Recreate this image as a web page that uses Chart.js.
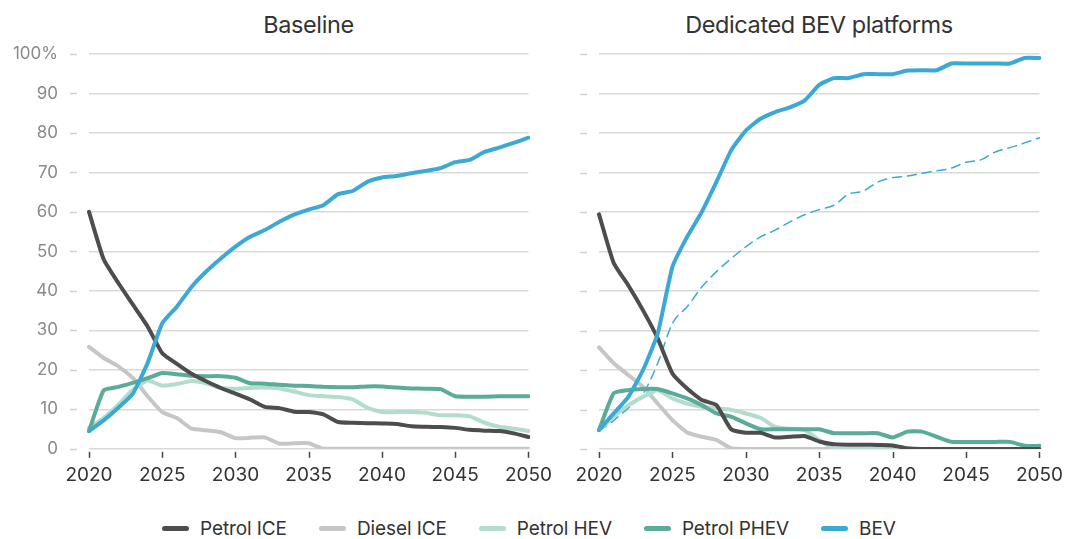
<!DOCTYPE html>
<html>
<head>
<meta charset="utf-8">
<script src="https://cdn.jsdelivr.net/npm/chart.js@4.4.1/dist/chart.umd.min.js"></script>
<style>
    body { margin: 0; background: #fff; font-family: Inter, sans-serif; }
    #wrap { position: relative; width: 1076px; height: 539px; overflow: hidden; }
    .box { position: absolute; top: 0; height: 490px; }
    .title { position: absolute; top: 10px; font-size: 23.5px; color: #333; text-align: center; letter-spacing: -0.4px; }
    #legend { position: absolute; left: 162px; top: 517px; display: flex; align-items: center; font-size: 19px; color: #333; letter-spacing: -0.1px; }
    .item { display: flex; align-items: center; margin-right: 32px; }
    .sw { width: 27px; height: 5px; border-radius: 3px; margin-right: 11px; }
</style>
</head>
<body>
<div id="wrap">
    <div class="title" style="left:89px;width:439px;">Baseline</div>
    <div class="title" style="left:599px;width:440px;">Dedicated BEV platforms</div>
    <div class="box" style="left:0;width:559px;"><canvas id="baseChart"></canvas></div>
    <div class="box" style="left:540px;width:530px;"><canvas id="bevChart"></canvas></div>
    <div id="legend"></div>
</div>
<script>
    "use strict";

    let years = [];
    for (let y = 2020; y <= 2050; y++) years.push(y);

    let seriesNames = ["Petrol ICE", "Diesel ICE", "Petrol HEV", "Petrol PHEV", "BEV"];
    let seriesColors = ["#4d4d4d", "#c6c6c6", "#b4dccb", "#5aab97", "#3ba9d3"];

    // Baseline scenario (% share)
    let basePetrolIce = [60, 48, 42, 36.5, 31, 24.2, 21.5, 19, 17.1, 15.4, 14, 12.5, 10.6, 10.3, 9.4, 9.3, 8.7, 6.8, 6.6, 6.5, 6.4, 6.3, 5.7, 5.6, 5.5, 5.3, 4.8, 4.6, 4.5, 3.9, 3.0];
    let baseDieselIce = [25.8, 23, 20.9, 17.9, 13.3, 9.3, 7.8, 5.1, 4.7, 4.2, 2.7, 2.8, 2.9, 1.3, 1.4, 1.4, 0, 0, 0, 0, 0, 0, 0, 0, 0, 0, 0, 0, 0, 0, 0];
    let basePetrolHev = [5.3, 7.8, 11.2, 15, 17.3, 16, 16.4, 17.2, 16.6, 15.4, 15.2, 15.4, 15.5, 15.3, 14.5, 13.6, 13.3, 13.1, 12.5, 10.4, 9.3, 9.3, 9.3, 9.1, 8.5, 8.5, 8.2, 6.6, 5.6, 5.1, 4.5];
    let basePetrolPhev = [4.5, 14.8, 15.7, 16.7, 17.9, 19.2, 18.9, 18.5, 18.4, 18.4, 18, 16.6, 16.5, 16.2, 16, 15.9, 15.7, 15.6, 15.6, 15.8, 15.8, 15.5, 15.3, 15.2, 15.1, 13.3, 13.2, 13.2, 13.3, 13.3, 13.3];
    let baseBev = [4.5, 7.2, 10.4, 14, 21.7, 31.8, 36, 41, 44.9, 48.2, 51.2, 53.7, 55.4, 57.5, 59.3, 60.6, 61.7, 64.5, 65.3, 67.6, 68.7, 69.1, 69.8, 70.4, 71.1, 72.6, 73.2, 75.2, 76.3, 77.5, 78.8];

    // Dedicated BEV platforms scenario (% share)
    let dedPetrolIce = [59.4, 47.1, 41.4, 35.1, 28, 19.1, 15.3, 12.4, 11.1, 5, 4.1, 4.1, 2.9, 3.1, 3.3, 1.9, 1.2, 1.1, 1.1, 1, 0.9, 0.2, 0, 0, 0, 0, 0, 0, 0, 0, 0];
    let dedDieselIce = [25.7, 21.7, 18.7, 15.8, 11.5, 7.3, 4.2, 3.1, 2.3, 0.2, 0, 0, 0, 0, 0, 0, 0, 0, 0, 0, 0, 0, 0, 0, 0, 0, 0, 0, 0, 0, 0];
    let dedPetrolHev = [4.8, 8.2, 11.1, 13.2, 14.9, 12.8, 11.5, 10.7, 10.3, 9.9, 9, 7.9, 5.6, 5.1, 4.8, 2.3, 0.1, 0, 0, 0, 0, 0, 0, 0, 0, 0, 0, 0, 0, 0, 0];
    let dedPetrolPhev = [4.8, 14.1, 14.9, 15.2, 15.2, 14.1, 12.8, 11.1, 9, 8.2, 6.5, 5, 5, 5, 5, 5, 4, 4, 4, 4, 2.9, 4.4, 4.4, 3.1, 1.8, 1.8, 1.8, 1.8, 1.8, 0.8, 0.8];
    let dedBev = [4.8, 9, 13.2, 20, 29.2, 46.1, 53.7, 60, 67.6, 75.6, 80.6, 83.6, 85.3, 86.5, 88.2, 92.2, 93.9, 93.9, 94.9, 94.9, 94.9, 95.8, 95.9, 95.9, 97.6, 97.6, 97.6, 97.6, 97.6, 99, 99];

    let yTicks = [0, 10, 20, 30, 40, 50, 60, 70, 80, 90, 100];

    // short tick dashes left of the grid and below the x axis
    let tickMarks = {
        id: "tickMarks",
        afterDraw(chart) {
            let ctx = chart.ctx;
            let area = chart.chartArea;
            let x = chart.scales.x;
            let y = chart.scales.y;
            ctx.save();
            ctx.lineWidth = 1.5;
            ctx.strokeStyle = "#d0d0d0";
            yTicks.forEach(v => {
                let py = Math.round(y.getPixelForValue(v)) + 0.5;
                ctx.beginPath();
                ctx.moveTo(area.left - 19, py);
                ctx.lineTo(area.left - 12, py);
                ctx.stroke();
            });
            ctx.strokeStyle = "#444";
            years.forEach((yr, i) => {
                if (yr % 5 !== 0) return;
                let px = Math.round(x.getPixelForValue(i)) + 0.5;
                ctx.beginPath();
                ctx.moveTo(px, area.bottom + 3);
                ctx.lineTo(px, area.bottom + 9);
                ctx.stroke();
            });
            ctx.restore();
        }
    };

    function MakeDatasets(values, dashed) {
        let order = [1, 4, 3, 2, 0];
        let sets = values.map((v, i) => ({
            label: seriesNames[i],
            data: v,
            borderColor: seriesColors[i],
            borderWidth: 4,
            order: order[i]
        }));
        if (dashed) {
            sets.push({
                label: "BEV (baseline)",
                data: dashed,
                borderColor: seriesColors[4],
                borderWidth: 1.5,
                borderDash: [9, 6],
                cubicInterpolationMode: "monotone",
                order: 5
            });
        }
        return sets;
    }

    function DrawChart(id, datasets, showLabels, padRight) {
        let ctx = document.getElementById(id).getContext("2d");
        return new Chart(ctx, {
            type: "line",
            data: { labels: years, datasets: datasets },
            plugins: [tickMarks],
            options: {
                responsive: true,
                maintainAspectRatio: false,
                animation: false,
                layout: { padding: { top: 54, right: padRight, left: 0, bottom: 0 } },
                elements: {
                    point: { radius: 0 },
                    line: { tension: 0.15, borderJoinStyle: "round", borderCapStyle: "round" }
                },
                plugins: { legend: { display: false }, tooltip: { enabled: false } },
                scales: {
                    x: {
                        afterFit: s => { s.height = 41; },
                        grid: { display: false },
                        border: { display: false },
                        ticks: {
                            autoSkip: false,
                            maxRotation: 0,
                            padding: 7,
                            color: "#333",
                            font: { family: "Inter", size: 19 },
                            callback: function (v, i) { return years[i] % 5 === 0 ? String(years[i]) : ""; }
                        }
                    },
                    y: {
                        min: 0,
                        max: 100,
                        afterFit: s => { s.width = showLabels ? 89 : 59; },
                        afterBuildTicks: s => { s.ticks = yTicks.map(v => ({ value: v })); },
                        border: { display: false },
                        grid: { color: "#d9d9d9", lineWidth: 1.5, drawTicks: false },
                        ticks: {
                            display: showLabels,
                            padding: 31,
                            color: "#8a8a8a",
                            font: { family: "Inter", size: 17 },
                            callback: v => v === 100 ? "100%" : String(v)
                        }
                    }
                }
            }
        });
    }

    DrawChart("baseChart", MakeDatasets([basePetrolIce, baseDieselIce, basePetrolHev, basePetrolPhev, baseBev]), true, 27);
    DrawChart("bevChart", MakeDatasets([dedPetrolIce, dedDieselIce, dedPetrolHev, dedPetrolPhev, dedBev], baseBev), false, 26);

    // legend
    let legend = document.getElementById("legend");
    seriesNames.forEach((name, i) => {
        let item = document.createElement("div");
        item.className = "item";
        item.innerHTML = `<span class="sw" style="background:${seriesColors[i]}"></span><span>${name}</span>`;
        legend.appendChild(item);
    });
</script>
</body>
</html>
